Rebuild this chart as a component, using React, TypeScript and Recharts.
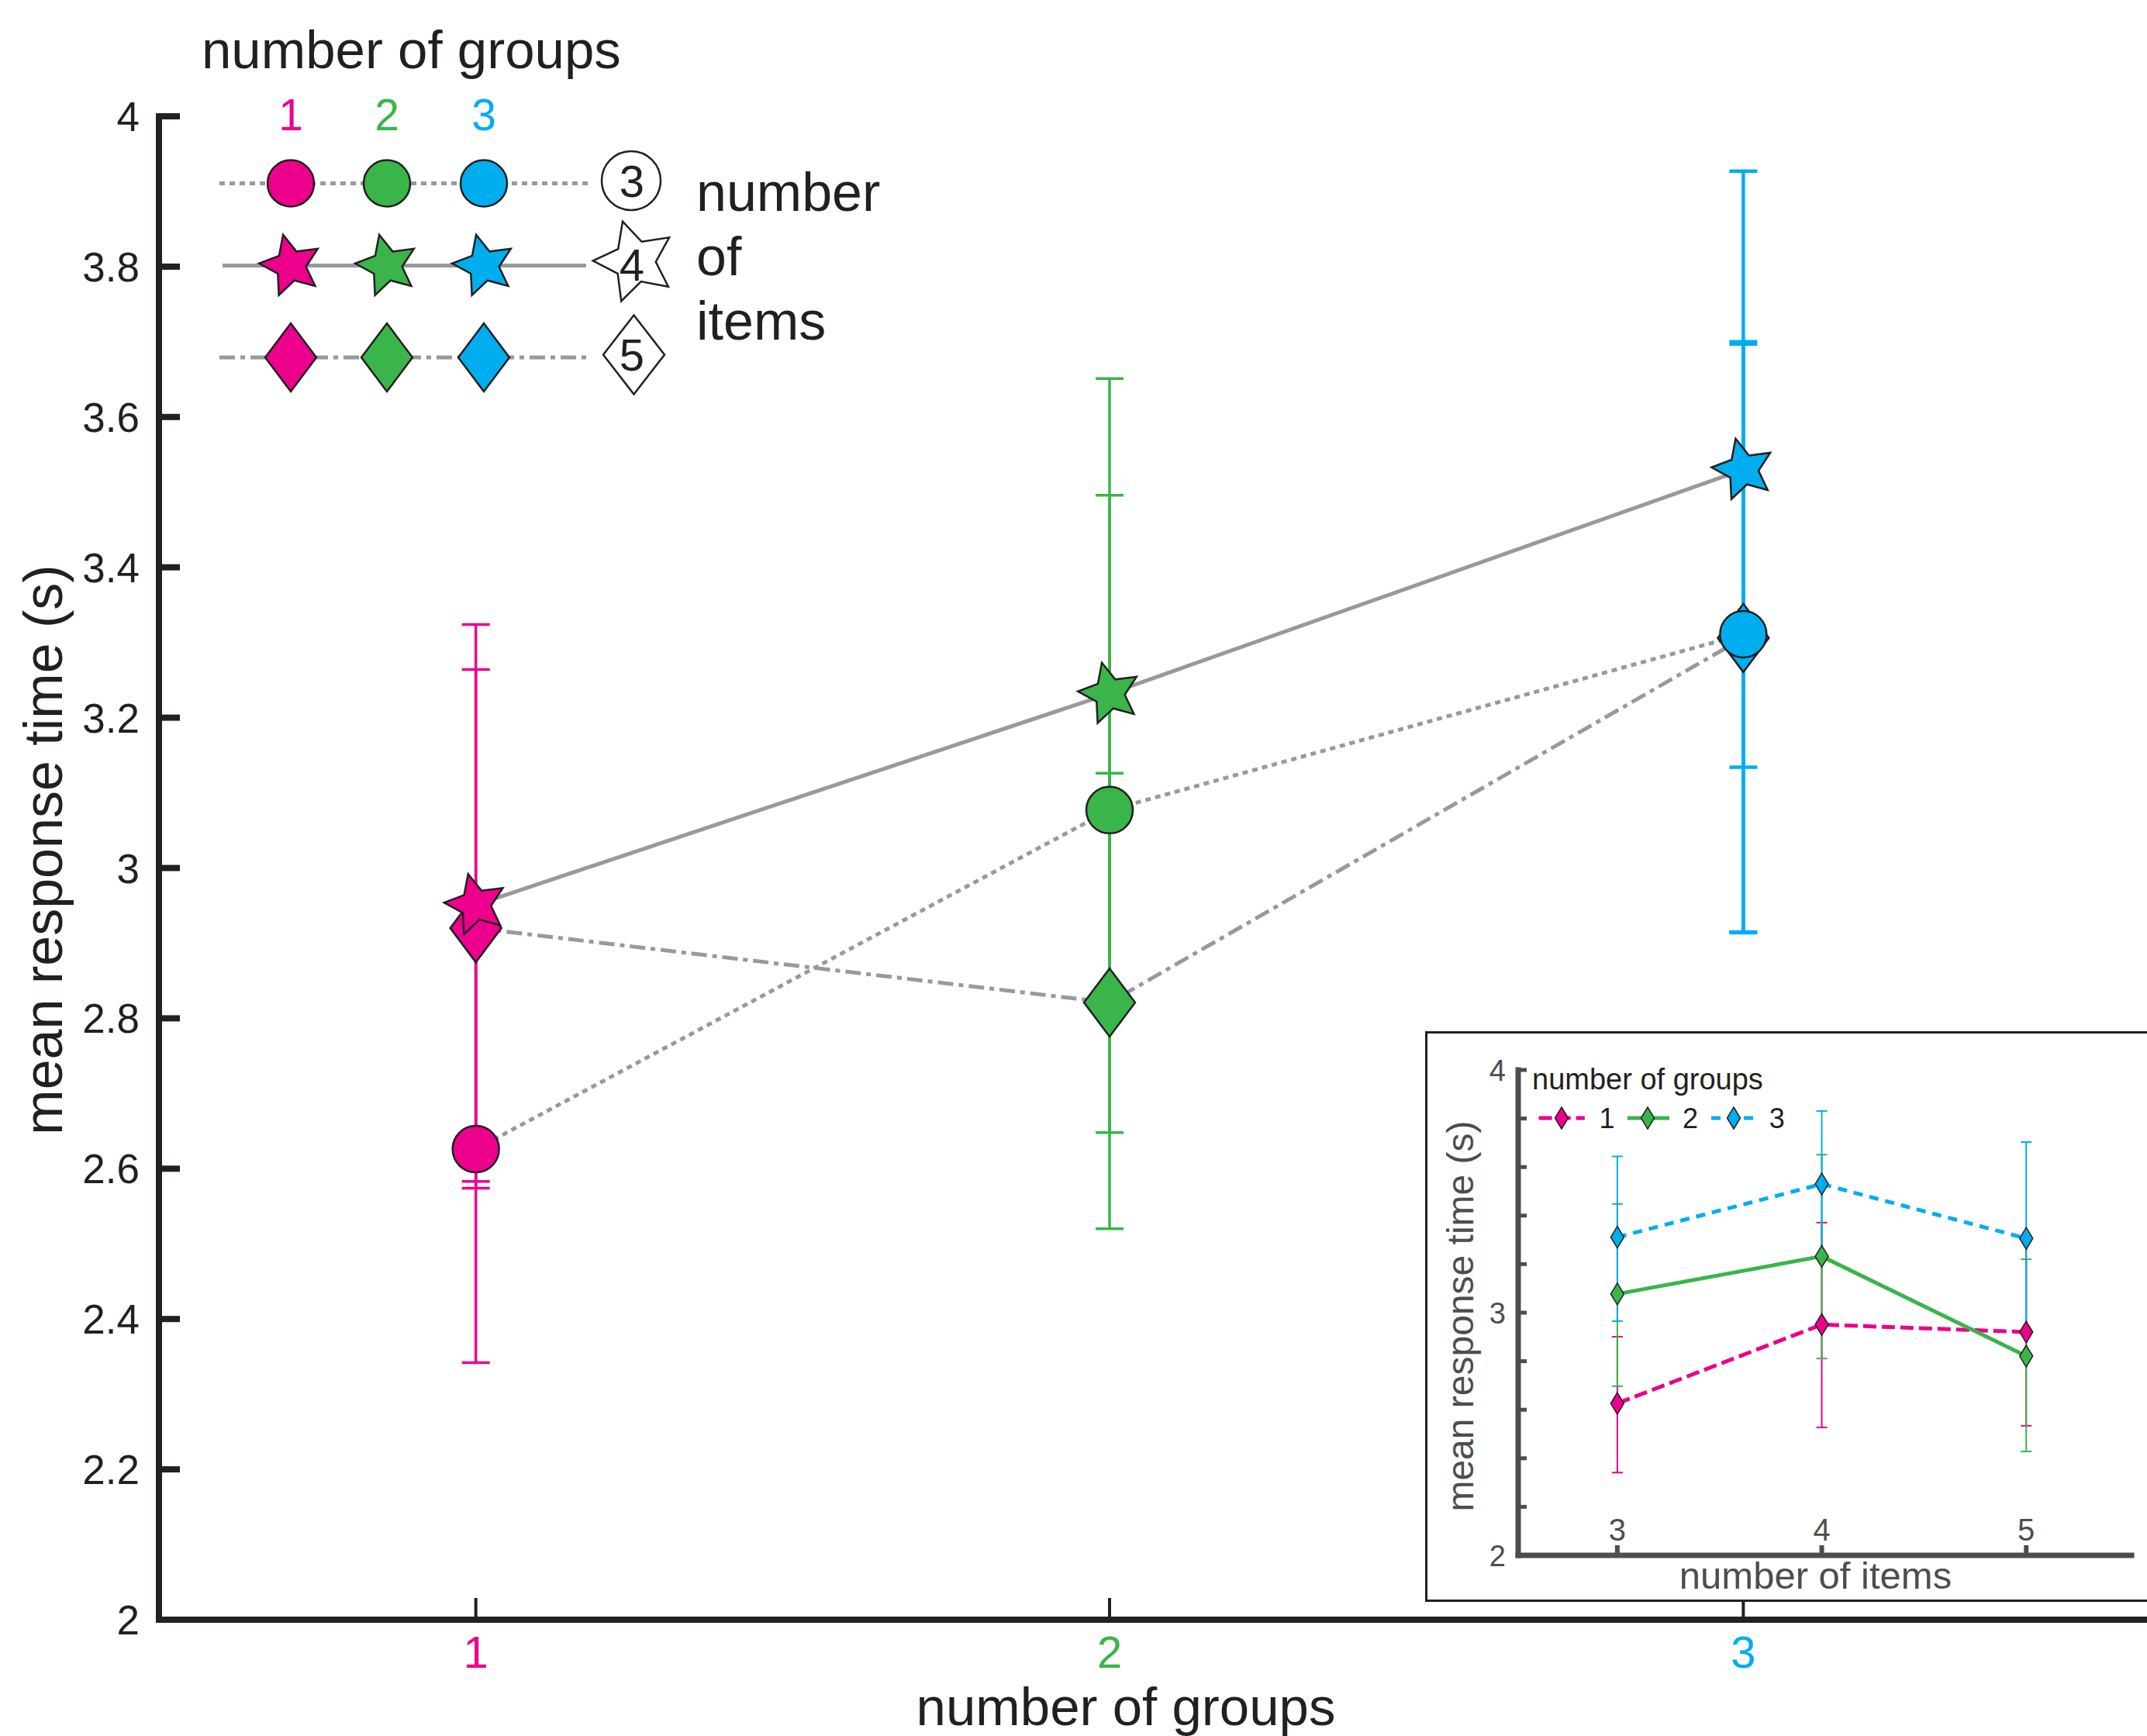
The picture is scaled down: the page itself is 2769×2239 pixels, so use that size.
import React from "react";
import {
  ComposedChart,
  LineChart,
  Line,
  Scatter,
  XAxis,
  YAxis,
  ErrorBar,
  Legend,
  Label,
} from "recharts";

const FONT = "'Liberation Sans', Arial, Helvetica, sans-serif";
const INK = "#231f20";
const INSET_INK = "#4d4d4d";
const LINE_GRAY = "#98999b";
const GROUP_COLORS = ["#ec008c", "#39b54a", "#00aeef"];

// x values
const GROUP_COUNTS = [1, 2, 3];
const ITEM_COUNTS = [3, 4, 5];
const Y_TICKS = [2, 2.2, 2.4, 2.6, 2.8, 3, 3.2, 3.4, 3.6, 3.8, 4];

// mean response time per number of items, indexed by number of groups (1, 2, 3)
const RT_3_ITEMS = [2.626, 3.077, 3.311];
const RT_4_ITEMS = [2.951, 3.232, 3.53];
const RT_5_ITEMS = [2.92, 2.821, 3.306];

// error bar bounds [low, high], main panel
const CI_3_ITEMS = [[2.342, 2.91], [2.648, 3.496], [2.915, 3.7]];
const CI_4_ITEMS = [[2.583, 3.324], [2.813, 3.651], [3.134, 3.927]];
const CI_5_ITEMS = [[2.574, 3.264], [2.52, 3.126], [2.914, 3.697]];

// error bar bounds [low, high], inset, indexed by number of items (3, 4, 5)
const INSET_CI_1_GROUP = [[2.341, 2.901], [2.527, 3.371], [2.534, 3.316]];
const INSET_CI_2_GROUPS = [[2.697, 3.448], [2.811, 3.651], [2.428, 3.22]];
const INSET_CI_3_GROUPS = [[2.965, 3.644], [3.233, 3.831], [2.917, 3.703]];

type Kind = "circle" | "star" | "diamond";

const ITEM_SERIES = [
  { items: 3, rt: RT_3_ITEMS, ci: CI_3_ITEMS },
  { items: 4, rt: RT_4_ITEMS, ci: CI_4_ITEMS },
  { items: 5, rt: RT_5_ITEMS, ci: CI_5_ITEMS },
];
const INSET_CI = [INSET_CI_1_GROUP, INSET_CI_2_GROUPS, INSET_CI_3_GROUPS];

const ITEM_KIND: Record<number, Kind> = { 3: "circle", 4: "star", 5: "diamond" };
const ITEM_DASH: Record<number, string | undefined> = { 3: "7 6", 4: undefined, 5: "20 7 6 7" };
const INSET_DASH = ["17 7", undefined, "12 9"];
const ERR_WIDTH = [3.5, 3.5, 4.5];

const toErr = (rt: number, ci: number[]): [number, number] => [rt - ci[0], ci[1] - rt];

function itemRows(k: number) {
  const s = ITEM_SERIES[k];
  return GROUP_COUNTS.map((g, i) => ({ groups: g, rt: s.rt[i], err: toErr(s.rt[i], s.ci[i]) }));
}

function groupRows(gi: number) {
  return ITEM_SERIES.map((s) => ({
    groups: GROUP_COUNTS[gi],
    rt: s.rt[gi],
    err: toErr(s.rt[gi], s.ci[gi]),
  }));
}

function insetRows(gi: number) {
  return ITEM_COUNTS.map((n, k) => ({
    items: n,
    rt: ITEM_SERIES[k].rt[gi],
    err: toErr(ITEM_SERIES[k].rt[gi], INSET_CI[gi][k]),
  }));
}

function starPts(cx: number, cy: number, r: number, ratio: number, rot: number) {
  const pts: string[] = [];
  for (let i = 0; i < 10; i++) {
    const a = ((-90 + rot + i * 36) * Math.PI) / 180;
    const rr = i % 2 === 0 ? r : r * ratio;
    pts.push(`${cx + rr * Math.cos(a)},${cy + rr * Math.sin(a)}`);
  }
  return pts.join(" ");
}

function diamondPts(cx: number, cy: number, w: number, h: number) {
  return `${cx},${cy - h} ${cx + w},${cy} ${cx},${cy + h} ${cx - w},${cy}`;
}

function Marker({ kind, cx, cy, fill }: { kind: Kind; cx: number; cy: number; fill: string }) {
  const common = { fill, stroke: INK, strokeWidth: 2.5, strokeLinejoin: "miter" as const };
  if (kind === "circle") return <circle cx={cx} cy={cy} r={30} {...common} />;
  if (kind === "star") return <polygon points={starPts(cx, cy, 41, 0.48, -14)} {...common} />;
  return <polygon points={diamondPts(cx, cy, 33, 44)} {...common} />;
}

const fmtTick = (v: number) => (Number.isInteger(v) ? String(v) : v.toFixed(1));

function MainYTick(props: any) {
  const { x, y, payload } = props;
  return (
    <text x={x - 52} y={y + 19} textAnchor="end" fontSize={53} fontFamily={FONT} fill={INK}>
      {fmtTick(payload.value)}
    </text>
  );
}

function MainXTick(props: any) {
  const { x, y, payload, index } = props;
  return (
    <text x={x} y={y + 90} textAnchor="middle" fontSize={58} fontFamily={FONT} fill={GROUP_COLORS[index]}>
      {payload.value}
    </text>
  );
}

function InsetYTick(props: any) {
  const { x, y, payload } = props;
  if (!Number.isInteger(payload.value)) return <g />;
  return (
    <text x={x - 27} y={y + 13.6} textAnchor="end" fontSize={38} fontFamily={FONT} fill={INSET_INK}>
      {payload.value}
    </text>
  );
}

function InsetXTick(props: any) {
  const { x, y, payload } = props;
  return (
    <text x={x} y={y - 6} textAnchor="middle" fontSize={40} fontFamily={FONT} fill={INSET_INK}>
      {payload.value}
    </text>
  );
}

function MainLegend() {
  const xs = [375, 499, 624];
  const rows = [
    { items: 3, y: 236.5, x1: 283, x2: 759 },
    { items: 4, y: 342.6, x1: 287, x2: 756 },
    { items: 5, y: 461, x1: 283, x2: 759 },
  ];
  const txt = { fontFamily: FONT, fill: INK };
  return (
    <svg width={1200} height={520} style={{ display: "block" }}>
      <text x={260} y={88} fontSize={69} {...txt}>
        number of groups
      </text>
      {GROUP_COUNTS.map((g, i) => (
        <text key={g} x={xs[i]} y={167.5} textAnchor="middle" fontSize={57} fontFamily={FONT} fill={GROUP_COLORS[i]}>
          {g}
        </text>
      ))}
      {rows.map((r) => (
        <g key={r.items}>
          <line x1={r.x1} x2={r.x2} y1={r.y} y2={r.y} stroke={LINE_GRAY} strokeWidth={5} strokeDasharray={ITEM_DASH[r.items]} />
          {xs.map((x, i) => (
            <Marker key={i} kind={ITEM_KIND[r.items]} cx={x} cy={r.y} fill={GROUP_COLORS[i]} />
          ))}
        </g>
      ))}
      <circle cx={814} cy={233} r={38} fill="#fff" stroke={INK} strokeWidth={2.5} />
      <text x={815} y={254} textAnchor="middle" fontSize={58} {...txt}>3</text>
      <polygon points={starPts(818.8, 337.3, 54, 0.5, -17)} fill="#fff" stroke={INK} strokeWidth={2.5} />
      <text x={815} y={361.7} textAnchor="middle" fontSize={58} {...txt}>4</text>
      <polygon points={diamondPts(817.5, 457.5, 39.5, 51)} fill="#fff" stroke={INK} strokeWidth={2.5} />
      <text x={815} y={478.3} textAnchor="middle" fontSize={58} {...txt}>5</text>
      <text x={898} y={271.7} fontSize={70} {...txt}>number</text>
      <text x={898} y={355} fontSize={70} {...txt}>of</text>
      <text x={898} y={438} fontSize={70} {...txt}>items</text>
    </svg>
  );
}

function InsetLegend() {
  const rows = [
    { x1: 144.6, x2: 203.8, mx: 174, lx: 232.5 },
    { x1: 259, x2: 313, mx: 285, lx: 340 },
    { x1: 367, x2: 427.6, mx: 396, lx: 451.7 },
  ];
  return (
    <svg width={480} height={140} style={{ display: "block" }}>
      <text x={136} y={73} fontSize={38} fontFamily={FONT} fill={INK}>
        number of groups
      </text>
      {rows.map((r, i) => (
        <g key={i}>
          <line x1={r.x1} x2={r.x2} y1={110} y2={110} stroke={GROUP_COLORS[i]} strokeWidth={5} strokeDasharray={INSET_DASH[i]} />
          <polygon points={diamondPts(r.mx, 110, 8.5, 14)} fill={GROUP_COLORS[i]} stroke={INK} strokeWidth={1.5} />
          <text x={r.lx} y={123} textAnchor="middle" fontSize={36} fontFamily={FONT} fill={INK}>
            {GROUP_COUNTS[i]}
          </text>
        </g>
      ))}
    </svg>
  );
}

function MainYLabel(props: any) {
  const vb = props.viewBox;
  const x = vb.x - 5;
  const y = vb.y + vb.height / 2 - 23.5;
  return (
    <text x={x} y={y} transform={`rotate(-90, ${x}, ${y})`} textAnchor="middle" fontSize={70} fontFamily={FONT} fill={INK}>
      mean response time (s)
    </text>
  );
}

function MainXLabel(props: any) {
  const vb = props.viewBox;
  return (
    <text x={vb.x + vb.width / 2 - 35} y={vb.y + 136} textAnchor="middle" fontSize={69} fontFamily={FONT} fill={INK}>
      number of groups
    </text>
  );
}

function InsetYLabel(props: any) {
  const vb = props.viewBox;
  const x = vb.x + 12;
  const y = vb.y + vb.height / 2 + 4.5;
  return (
    <text x={x} y={y} transform={`rotate(-90, ${x}, ${y})`} textAnchor="middle" fontSize={48} fontFamily={FONT} fill={INSET_INK}>
      mean response time (s)
    </text>
  );
}

function InsetXLabel(props: any) {
  const vb = props.viewBox;
  return (
    <text x={vb.x + vb.width / 2 - 12} y={vb.y + 42.6} textAnchor="middle" fontSize={49} fontFamily={FONT} fill={INSET_INK}>
      number of items
    </text>
  );
}

const hidden = () => <g />;

export default function App() {
  return (
    <div style={{ position: "absolute", left: 0, top: 0, width: 2769, height: 2239, overflow: "hidden", background: "#fff" }}>
      <div style={{ position: "absolute", left: 0, top: 0 }}>
        <ComposedChart width={2769} height={2239} margin={{ top: 150, right: 0, bottom: 50, left: 85 }}>
          <XAxis
            type="number"
            dataKey="groups"
            domain={[0.5, 3.637]}
            ticks={GROUP_COUNTS}
            interval={0}
            allowDataOverflow
            height={100}
            tickSize={-28}
            tickMargin={0}
            axisLine={{ stroke: INK, strokeWidth: 8, strokeLinecap: "square" }}
            tickLine={{ stroke: INK, strokeWidth: 4 }}
            tick={<MainXTick />}
          >
            <Label content={<MainXLabel />} />
          </XAxis>
          <YAxis
            type="number"
            dataKey="rt"
            domain={[2, 4]}
            ticks={Y_TICKS}
            interval={0}
            allowDataOverflow
            width={120}
            tickSize={-27}
            tickMargin={0}
            axisLine={{ stroke: INK, strokeWidth: 8, strokeLinecap: "square" }}
            tickLine={{ stroke: INK, strokeWidth: 8 }}
            tick={<MainYTick />}
          >
            <Label content={<MainYLabel />} />
          </YAxis>
          {GROUP_COUNTS.map((g, gi) => (
            <Scatter key={`err-${g}`} data={groupRows(gi)} shape={hidden} isAnimationActive={false}>
              <ErrorBar dataKey="err" direction="y" width={18} stroke={GROUP_COLORS[gi]} strokeWidth={ERR_WIDTH[gi]} isAnimationActive={false} />
            </Scatter>
          ))}
          {ITEM_SERIES.map((s, k) => (
            <Line
              key={`line-${s.items}`}
              data={itemRows(k)}
              dataKey="rt"
              stroke={LINE_GRAY}
              strokeWidth={5}
              strokeDasharray={ITEM_DASH[s.items]}
              dot={false}
              activeDot={false}
              isAnimationActive={false}
            />
          ))}
          {[2, 0, 1].map((k) => (
            <Scatter
              key={`mk-${ITEM_SERIES[k].items}`}
              data={itemRows(k)}
              isAnimationActive={false}
              shape={(p: any) => (
                <Marker kind={ITEM_KIND[ITEM_SERIES[k].items]} cx={p.cx} cy={p.cy} fill={GROUP_COLORS[p.payload.groups - 1]} />
              )}
            />
          ))}
          <Legend
            layout="horizontal"
            verticalAlign="middle"
            align="center"
            wrapperStyle={{ left: 0, top: 0, width: 1200, height: 520 }}
            content={() => <MainLegend />}
          />
        </ComposedChart>
      </div>

      <div
        style={{
          position: "absolute",
          left: 1838,
          top: 1330,
          width: 960,
          height: 736,
          boxSizing: "border-box",
          border: `3px solid ${INK}`,
          background: "#fff",
        }}
      />
      <div style={{ position: "absolute", left: 1840, top: 1332 }}>
        <LineChart width={929} height={733} margin={{ top: 48, right: 20, bottom: 19, left: 48 }}>
          <XAxis
            type="number"
            dataKey="items"
            domain={[2.515, 5.515]}
            ticks={ITEM_COUNTS}
            interval={0}
            allowDataOverflow
            height={40}
            tickSize={-13}
            tickMargin={0}
            axisLine={{ stroke: INSET_INK, strokeWidth: 7, strokeLinecap: "square" }}
            tickLine={{ stroke: INSET_INK, strokeWidth: 6 }}
            tick={<InsetXTick />}
          >
            <Label content={<InsetXLabel />} />
          </XAxis>
          <YAxis
            type="number"
            dataKey="rt"
            domain={[2, 4]}
            ticks={Y_TICKS}
            interval={0}
            allowDataOverflow
            width={70}
            tickSize={-11}
            tickMargin={0}
            axisLine={{ stroke: INSET_INK, strokeWidth: 7, strokeLinecap: "square" }}
            tickLine={{ stroke: INSET_INK, strokeWidth: 5 }}
            tick={<InsetYTick />}
          >
            <Label content={<InsetYLabel />} />
          </YAxis>
          {GROUP_COUNTS.map((g, gi) => (
            <Line
              key={`inset-${g}`}
              data={insetRows(gi)}
              dataKey="rt"
              stroke={GROUP_COLORS[gi]}
              strokeWidth={5}
              strokeDasharray={INSET_DASH[gi]}
              activeDot={false}
              isAnimationActive={false}
              dot={(p: any) => (
                <polygon
                  key={`d-${g}-${p.index}`}
                  points={diamondPts(p.cx, p.cy, 8.5, 14)}
                  fill={GROUP_COLORS[gi]}
                  stroke={INK}
                  strokeWidth={1.5}
                />
              )}
            >
              <ErrorBar dataKey="err" direction="y" width={7} stroke={GROUP_COLORS[gi]} strokeWidth={2} isAnimationActive={false} />
            </Line>
          ))}
          <Legend
            layout="horizontal"
            verticalAlign="middle"
            align="center"
            wrapperStyle={{ left: 0, top: 0, width: 480, height: 140 }}
            content={() => <InsetLegend />}
          />
        </LineChart>
      </div>
    </div>
  );
}
